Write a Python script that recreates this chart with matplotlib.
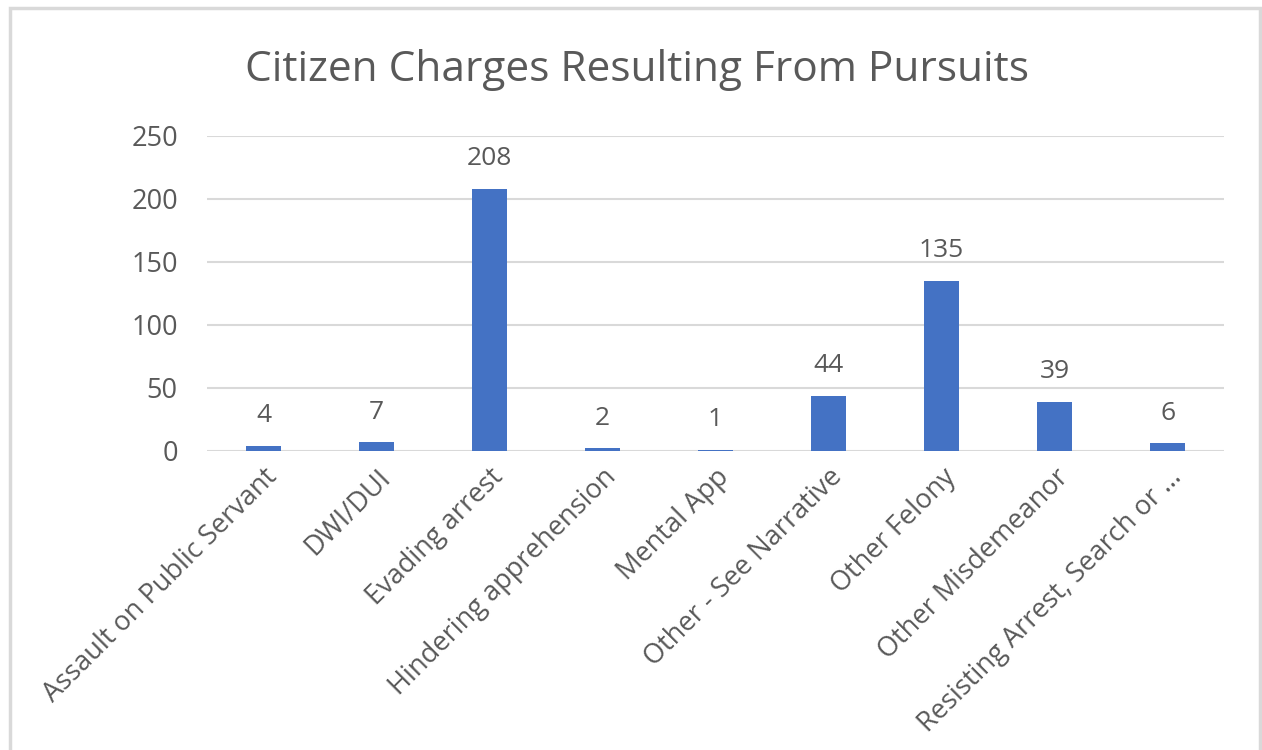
import matplotlib.pyplot as plt
from matplotlib.patches import Rectangle

categories = ["Assault on Public Servant", "DWI/DUI", "Evading arrest",
              "Hindering apprehension", "Mental App", "Other - See Narrative",
              "Other Felony", "Other Misdemeanor", "Resisting Arrest, Search or \u2026"]
counts = [4, 7, 208, 2, 1, 44, 135, 39, 6]
yticks = [0, 50, 100, 150, 200, 250]

txt = "#595959"
plt.rcParams['font.family'] = ['Open Sans', 'DejaVu Sans']

fig = plt.figure(figsize=(12.62, 7.5), dpi=100)
ax = fig.add_axes([0.164, 0.3987, 0.806, 0.42])

x = range(len(categories))
bars = ax.bar(x, counts, width=0.31, color="#4472c4", zorder=3)
for b, v in zip(bars, counts):
    ax.text(b.get_x() + b.get_width() / 2, v + 14, str(v), ha="center", va="bottom",
            fontsize=19, color=txt)

ax.set_xlim(-0.5, len(categories) - 0.5)
ax.set_ylim(0, 250)
ax.set_yticks(yticks)
ax.set_yticklabels([str(t) for t in yticks], fontsize=19.5, color=txt)
ax.set_xticks(list(x))
ax.set_xticklabels(categories, rotation=45, ha="right", rotation_mode="anchor",
                   fontsize=19.5, color=txt)
ax.tick_params(length=0)
ax.tick_params(axis="y", pad=21)
ax.tick_params(axis="x", pad=9)
ax.grid(axis="y", color="#d9d9d9", lw=1.5, zorder=0)
for s in ax.spines.values():
    s.set_visible(False)

fig.text(0.505, 0.907, "Citizen Charges Resulting From Pursuits", ha="center", va="center",
         fontsize=30.5, color=txt)

fig.patches.append(Rectangle((10 / 1262, -0.05), 1250 / 1262, 0.05 + 742 / 750,
                             transform=fig.transFigure, fill=False,
                             edgecolor="#d9d9d9", lw=2.5))

fig.savefig("out.png", dpi=100)
